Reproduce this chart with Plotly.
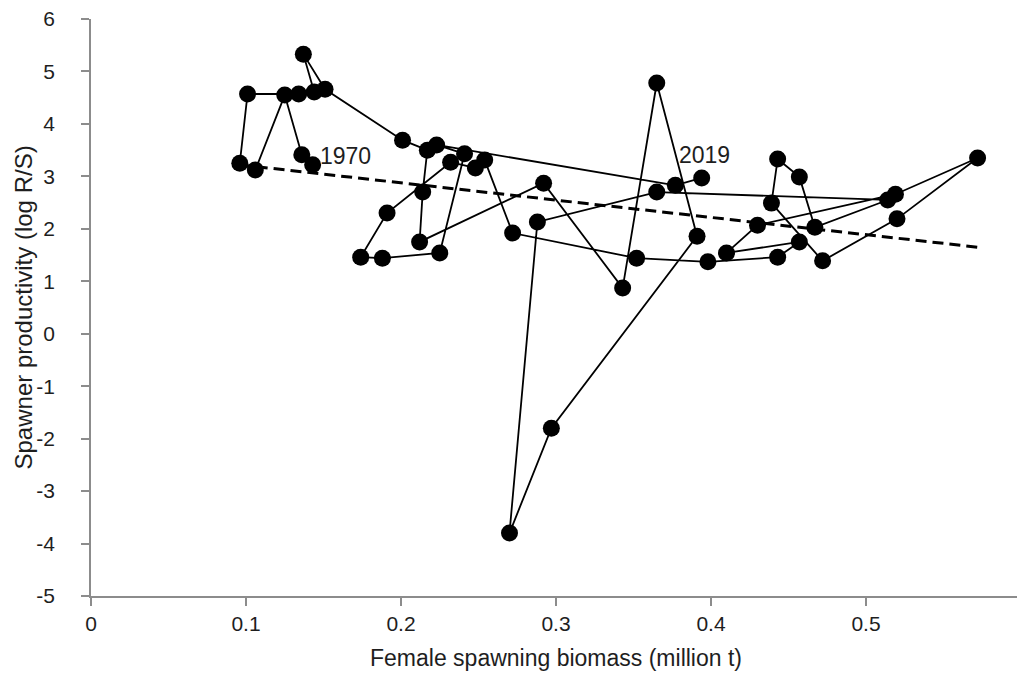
import plotly.graph_objects as go

# Year-ordered path (1970 -> 2019)
biomass = [0.143, 0.136, 0.125, 0.106, 0.096, 0.101, 0.134, 0.144, 0.137, 0.151,
           0.201, 0.217, 0.214, 0.212, 0.292, 0.343, 0.365, 0.391, 0.297, 0.270,
           0.288, 0.365, 0.514, 0.467, 0.457, 0.443, 0.439, 0.472, 0.520, 0.572,
           0.519, 0.430, 0.410, 0.457, 0.443, 0.398, 0.352, 0.272, 0.254, 0.248,
           0.232, 0.191, 0.174, 0.188, 0.225, 0.241, 0.223, 0.377, 0.394]
productivity = [3.22, 3.41, 4.55, 3.12, 3.25, 4.57, 4.57, 4.61, 5.33, 4.66,
                3.69, 3.50, 2.70, 1.75, 2.87, 0.87, 4.78, 1.86, -1.80, -3.80,
                2.13, 2.70, 2.55, 2.03, 2.99, 3.33, 2.49, 1.39, 2.19, 3.35,
                2.66, 2.07, 1.54, 1.75, 1.46, 1.37, 1.44, 1.92, 3.31, 3.16,
                3.27, 2.30, 1.46, 1.44, 1.54, 3.43, 3.60, 2.83, 2.97]
first_label = "1970"
last_label = "2019"

# Fitted trend
trend_x = [0.096, 0.572]
trend_y = [3.22, 1.65]

x_ticks = [0, 0.1, 0.2, 0.3, 0.4, 0.5]
x_tick_labels = ["0", "0.1", "0.2", "0.3", "0.4", "0.5"]
y_ticks = list(range(-5, 7))
y_tick_labels = [str(v) for v in y_ticks]

FONT = "Liberation Sans, Arial, sans-serif"
TXT = "#1e1e1e"

fig = go.Figure()
fig.add_trace(go.Scatter(
    x=trend_x, y=trend_y, mode="lines",
    line=dict(color="black", width=3, dash="11px,6px"),
    hoverinfo="skip", showlegend=False))
fig.add_trace(go.Scatter(
    x=biomass, y=productivity, mode="lines+markers",
    line=dict(color="black", width=1.8),
    marker=dict(color="black", size=17),
    showlegend=False))

fig.add_annotation(x=biomass[0], y=productivity[0], text=first_label, showarrow=False,
                   xanchor="left", yanchor="middle", xshift=5, yshift=9,
                   font=dict(family=FONT, size=23, color=TXT))
fig.add_annotation(x=biomass[-1], y=productivity[-1], text=last_label, showarrow=False,
                   xanchor="center", yanchor="bottom", xshift=3, yshift=8,
                   font=dict(family=FONT, size=23, color=TXT))
# y-axis title as a rotated annotation for exact placement
fig.add_annotation(xref="paper", yref="paper", x=0, y=0.5,
                   text="Spawner productivity (log R/S)", textangle=-90,
                   showarrow=False, xanchor="center", yanchor="middle", xshift=-68,
                   font=dict(family=FONT, size=24, color=TXT))

axis_common = dict(showgrid=False, zeroline=False, showline=True,
                   linecolor="#8c8c8c", linewidth=1.5, ticks="outside",
                   ticklen=8, tickcolor="#8c8c8c", tickwidth=1.5,
                   ticklabeloverflow="allow",
                   tickfont=dict(family=FONT, size=21, color=TXT))

# page body adds an 8px offset; margins compensate
fig.update_layout(
    width=1025, height=682,
    margin=dict(l=83, r=12, t=11, b=94, autoexpand=False),
    paper_bgcolor="white", plot_bgcolor="white",
    xaxis=dict(range=[0, 0.6], tickvals=x_ticks, ticktext=x_tick_labels,
               title=dict(text="Female spawning biomass (million t)",
                          font=dict(family=FONT, size=23, color=TXT), standoff=16),
               **axis_common),
    yaxis=dict(range=[-5, 6], tickvals=y_ticks, ticktext=y_tick_labels,
               ticklabelstandoff=22, **axis_common),
)

fig.write_html("out.html")
